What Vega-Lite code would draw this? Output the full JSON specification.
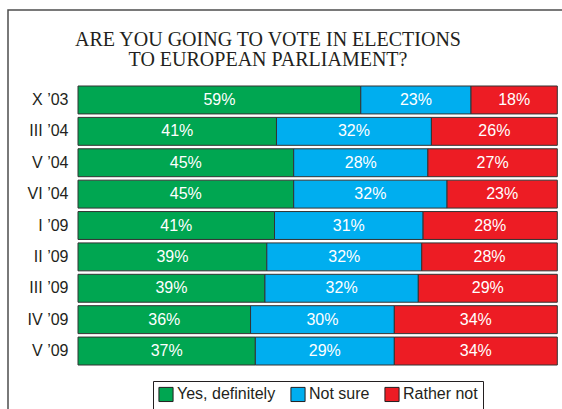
{
  "$schema": "https://vega.github.io/schema/vega-lite/v6.json",
  "autosize": "none",
  "padding": {"left": 8, "top": 10, "right": 0, "bottom": 0},
  "width": 600,
  "height": 420,
  "background": "white",
  "title": {
    "text": ["ARE YOU GOING TO VOTE IN ELECTIONS", "TO EUROPEAN PARLIAMENT?"],
    "font": "Liberation Serif",
    "fontSize": 20,
    "fontWeight": "normal",
    "color": "#231f20",
    "lineHeight": 20,
    "anchor": "middle",
    "frame": "group",
    "offset": -60,
    "dx": -40
  },
  "data": {
    "values": [
      {"period": "X ’03", "answer": "Yes, definitely", "order": 1, "value": 59},
      {"period": "X ’03", "answer": "Not sure", "order": 2, "value": 23},
      {"period": "X ’03", "answer": "Rather not", "order": 3, "value": 18},
      {"period": "III ’04", "answer": "Yes, definitely", "order": 1, "value": 41},
      {"period": "III ’04", "answer": "Not sure", "order": 2, "value": 32},
      {"period": "III ’04", "answer": "Rather not", "order": 3, "value": 26},
      {"period": "V ’04", "answer": "Yes, definitely", "order": 1, "value": 45},
      {"period": "V ’04", "answer": "Not sure", "order": 2, "value": 28},
      {"period": "V ’04", "answer": "Rather not", "order": 3, "value": 27},
      {"period": "VI ’04", "answer": "Yes, definitely", "order": 1, "value": 45},
      {"period": "VI ’04", "answer": "Not sure", "order": 2, "value": 32},
      {"period": "VI ’04", "answer": "Rather not", "order": 3, "value": 23},
      {"period": "I ’09", "answer": "Yes, definitely", "order": 1, "value": 41},
      {"period": "I ’09", "answer": "Not sure", "order": 2, "value": 31},
      {"period": "I ’09", "answer": "Rather not", "order": 3, "value": 28},
      {"period": "II ’09", "answer": "Yes, definitely", "order": 1, "value": 39},
      {"period": "II ’09", "answer": "Not sure", "order": 2, "value": 32},
      {"period": "II ’09", "answer": "Rather not", "order": 3, "value": 28},
      {"period": "III ’09", "answer": "Yes, definitely", "order": 1, "value": 39},
      {"period": "III ’09", "answer": "Not sure", "order": 2, "value": 32},
      {"period": "III ’09", "answer": "Rather not", "order": 3, "value": 29},
      {"period": "IV ’09", "answer": "Yes, definitely", "order": 1, "value": 36},
      {"period": "IV ’09", "answer": "Not sure", "order": 2, "value": 30},
      {"period": "IV ’09", "answer": "Rather not", "order": 3, "value": 34},
      {"period": "V ’09", "answer": "Yes, definitely", "order": 1, "value": 37},
      {"period": "V ’09", "answer": "Not sure", "order": 2, "value": 29},
      {"period": "V ’09", "answer": "Rather not", "order": 3, "value": 34}
    ]
  },
  "transform": [
    {"stack": "value", "groupby": ["period"], "sort": [{"field": "order", "order": "ascending"}], "offset": "normalize", "as": ["x0", "x1"]},
    {"calculate": "(datum.x0 + datum.x1) / 2", "as": "xmid"},
    {"calculate": "datum.value + '%'", "as": "label"}
  ],
  "encoding": {
    "y": {
      "field": "period",
      "type": "nominal",
      "sort": null,
      "scale": {"range": [76, 355], "paddingInner": 0.11, "paddingOuter": 0},
      "axis": {
        "title": null,
        "domain": false,
        "ticks": false,
        "offset": -62,
        "labelPadding": 2,
        "labelFont": "Liberation Sans",
        "labelFontSize": 16,
        "labelColor": "#231f20"
      }
    }
  },
  "layer": [
    {
      "mark": {"type": "bar", "stroke": "#333333", "strokeWidth": 1},
      "encoding": {
        "x": {"field": "x0", "type": "quantitative", "scale": {"domain": [-0.14605, 1.10578], "nice": false, "zero": false}, "axis": null},
        "x2": {"field": "x1"},
        "color": {
          "field": "answer",
          "type": "nominal",
          "scale": {"domain": ["Yes, definitely", "Not sure", "Rather not"], "range": ["#00a651", "#00aeef", "#ed1c24"]},
          "legend": {
            "title": null,
            "orient": "none",
            "legendX": 145,
            "legendY": 371,
            "direction": "horizontal",
            "strokeColor": "#231f20",
            "padding": 5,
            "symbolType": "square",
            "symbolSize": 200,
            "symbolStrokeColor": "#231f20",
            "symbolStrokeWidth": 1,
            "symbolOpacity": 1,
            "labelFont": "Liberation Sans",
            "labelFontSize": 16,
            "labelColor": "#231f20",
            "labelOffset": 3,
            "columnPadding": 12
          }
        }
      }
    },
    {
      "mark": {"type": "text", "color": "white", "font": "Liberation Sans", "fontSize": 16, "baseline": "middle", "align": "center"},
      "encoding": {
        "x": {"field": "xmid", "type": "quantitative"},
        "text": {"field": "label"}
      }
    }
  ],
  "config": {
    "view": {"stroke": "#4d4d4d", "strokeWidth": 1.5}
  }
}
